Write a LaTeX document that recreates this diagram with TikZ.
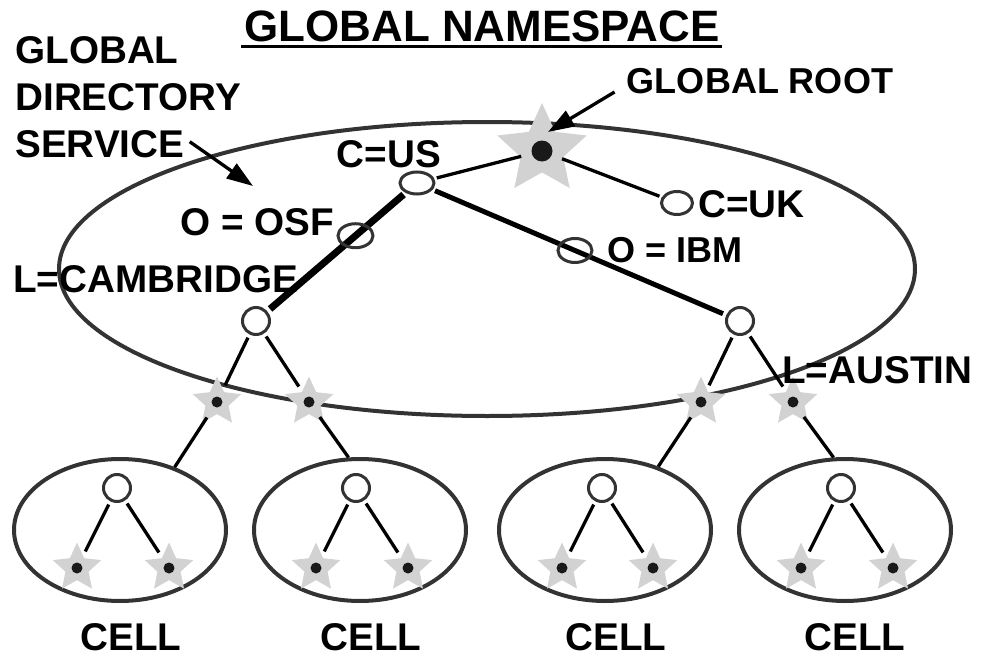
\documentclass[tikz,border=0pt]{standalone}
\usepackage{fontspec}
\setmainfont{Liberation Sans}
\usetikzlibrary{shapes.geometric,arrows.meta}

\def\u{0.02cm} % one pixel

\begin{document}
\begin{tikzpicture}[x=0.02cm, y=-0.02cm,
  lbl/.style={font=\fontsize{22}{26}\selectfont\bfseries, inner sep=0},
  smalllbl/.style={font=\fontsize{20.5}{24}\selectfont\bfseries, inner sep=0},
  titlelbl/.style={font=\fontsize{25}{30}\selectfont\bfseries, inner sep=0},
  region/.style={ellipse, draw=black!80, line width=4*\u, inner sep=0},
  entry/.style={ellipse, draw=black!80, line width=3*\u, inner sep=0, outer sep=4*\u},
  dirnode/.style={circle, draw=black!80, line width=3*\u, inner sep=0, minimum size=27*\u, outer sep=5*\u},
  leafstar/.style={star, star points=5, star point ratio=2.1, fill=gray!35, inner sep=0, minimum size=51*\u},
  leaf/.style={circle, fill=black!90, inner sep=0, minimum size=11*\u, outer sep=13*\u},
  rootstar/.style={leafstar, minimum size=94*\u},
  rootdot/.style={circle, fill=black!90, inner sep=0, minimum size=21*\u, outer sep=11*\u},
  link/.style={line width=3.3*\u},
  midlink/.style={line width=5*\u},
  mainlink/.style={line width=7*\u},
  pointer/.style={line width=3.3*\u, -{Triangle[length=15pt, width=10pt]}}]

\useasboundingbox (0,0) rectangle (985,656);

\def\ybound{402} % boundary stars
\def\ycell{530} % cell centres
\def\ycroot{488} % cell roots
\def\ycleaf{568} % cell leaves

% global directory service
\node[region, minimum width=856*\u, minimum height=294*\u] (gds) at (487,269) {};

\node[rootstar] (rootstar) at (542,150) {};
\node[rootdot] (root) at (542,151) {};
\node[entry, minimum width=34*\u, minimum height=22*\u] (us) at (417,183) {};
\node[entry, minimum width=31*\u, minimum height=23*\u] (uk) at (677,203) {};
\node[dirnode] (cam) at (256,321) {};
\node[dirnode] (aus) at (740,321) {};

% cells
\foreach \c/\x in {a/120, b/360, c/605, d/845}
  \node[region, minimum width=212*\u, minimum height=142*\u] (cell\c) at (\x,\ycell) {};
\foreach \c/\x in {a/117, b/356, c/602, d/841}
  \node[dirnode] (r\c) at (\x,\ycroot) {};

\foreach \n/\x/\y in {cl/217/\ybound, cr/309/\ybound, al/701/\ybound, ar/793/\ybound,
    a1/77/\ycleaf, a2/169/\ycleaf, b1/316/\ycleaf, b2/408/\ycleaf,
    c1/562/\ycleaf, c2/653/\ycleaf, d1/801/\ycleaf, d2/893/\ycleaf} {
  \node[leafstar] (\n star) at (\x,\y) {};
  \node[leaf] (\n) at (\x,\y) {};
}

% links
\draw[link] (root) -- (us);
\draw[link] (root) -- (uk);
\draw[mainlink] (us) -- (cam)
  node[entry, pos=0.36, minimum width=35*\u, minimum height=24*\u] (osf) {};
\draw[midlink] (us) -- (aus)
  node[entry, pos=0.486, minimum width=34*\u, minimum height=24*\u] (ibm) {};

\draw[link] (cam) -- (cl);
\draw[link] (cam) -- (cr);
\draw[link] (aus) -- (al);
\draw[link] (aus) -- (ar);
\draw[link] (cl) -- (cella.49);
\draw[link] (cr) -- (cellb.99);
\draw[link] (al) -- (cellc.50);
\draw[link] (ar) -- (celld.99);
\foreach \c in {a,b,c,d} {
  \draw[link] (r\c) -- (\c1);
  \draw[link] (r\c) -- (\c2);
}

% labels
\node[titlelbl, anchor=base] (title) at (482,41) {GLOBAL NAMESPACE};
\draw[line width=3*\u] ([shift={(-3,5.5)}]title.base west) -- ([shift={(2,5.5)}]title.base east);

\node[lbl, anchor=base west] (gdsa) at (15,63) {GLOBAL};
\node[lbl, anchor=base west] (gdsb) at (15,110) {DIRECTORY};
\node[lbl, anchor=base west] (gdsc) at (15,157) {SERVICE};
\coordinate (gdsend) at (253,186);
\draw[pointer] ([shift={(5,-2)}]gdsc.east) -- (gdsend);

\node[smalllbl, anchor=base] (groot) at (760,93) {GLOBAL ROOT};
\coordinate (rootend) at (548,132);
\draw[pointer] ([shift={(-12,-1)}]groot.base west) -- (rootend);

\node[lbl, anchor=base] (uslbl) at (389,167) {C=US};
\node[lbl, anchor=base west] (uklbl) at (698,217) {C=UK};
\node[lbl, anchor=base west] (osflbl) at (180,235) {O = OSF};
\node[smalllbl, anchor=base west] (ibmlbl) at (607,262) {O = IBM};
\node[lbl, anchor=base west] (camlbl) at (13,292) {L=CAMBRIDGE};
\node[lbl, anchor=base west] (auslbl) at (782,383) {L=AUSTIN};

\foreach \c/\x in {a/131, b/371, c/616, d/855}
  \node[lbl, anchor=base] (cell\c lbl) at (\x,650) {CELL};

\end{tikzpicture}
\end{document}
